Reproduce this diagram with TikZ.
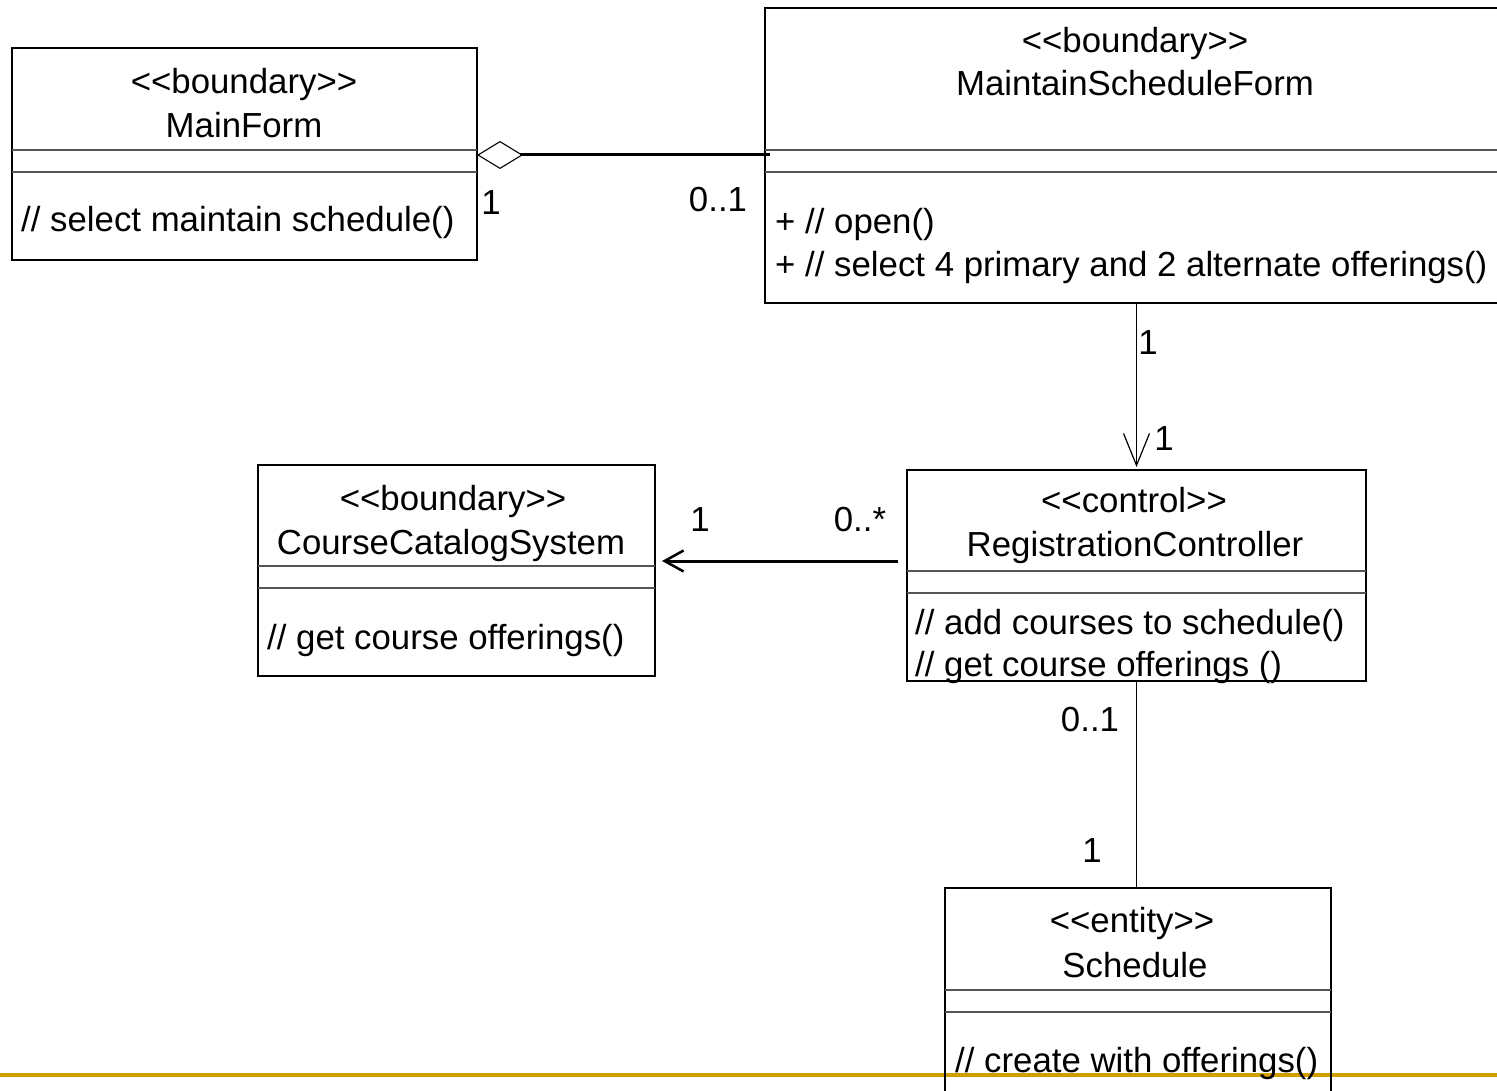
\documentclass[tikz,border=0pt]{standalone}
\usepackage{fontspec}
\setmainfont{Liberation Sans}[Ligatures=TeXOff]
\usetikzlibrary{arrows.meta}
\definecolor{rulegold}{RGB}{208,158,0}
\definecolor{divgray}{RGB}{85,85,85}

\begin{document}
\begin{tikzpicture}[x=1pt,y=-1pt,
  font=\fontsize{34.8}{40}\selectfont,
  cls/.style={draw=black, line width=1.1pt, inner sep=0pt, outer sep=0pt, anchor=north west},
  divider/.style={draw=divgray, line width=1.8pt},
  txt/.style={inner sep=0pt, anchor=base},
  meth/.style={inner sep=0pt, anchor=base west},
  mult/.style={inner sep=0pt, anchor=base},
  link/.style={draw=black, line width=1.2pt},
  strong/.style={draw=black, line width=3pt},
]
\useasboundingbox (0,0) rectangle (1497,1091);

% slide rule along the bottom
\draw[rulegold, line width=4pt] (0,1074.7) -- (1497,1074.7);

% ---- MainForm
\node[cls, minimum width=465pt, minimum height=212pt] (mf) at (12,48) {};
\draw[divider] ([yshift=-102pt]mf.north west) -- ([yshift=-102pt]mf.north east);
\draw[divider] ([yshift=-124pt]mf.north west) -- ([yshift=-124pt]mf.north east);
\node[txt] (mfS) at (244,94) {<<boundary>>};
\node[txt] (mfN) at (244,138) {MainForm};
\node[meth] (mfM1) at (21,232) {// select maintain schedule()};

% ---- MaintainScheduleForm
\node[cls, minimum width=744pt, minimum height=295pt] (msf) at (765,8) {};
\draw[divider] ([yshift=-142pt]msf.north west) -- ([yshift=-142pt]msf.north east);
\draw[divider] ([yshift=-164pt]msf.north west) -- ([yshift=-164pt]msf.north east);
\node[txt] (msfS) at (1135,53) {<<boundary>>};
\node[txt] (msfN) at (1135,96) {MaintainScheduleForm};
\node[meth] (msfM1) at (775,234) {+ // open()};
\node[meth] (msfM2) at (775,277) {+ // select 4 primary and 2 alternate offerings()};

% ---- CourseCatalogSystem
\node[cls, minimum width=397pt, minimum height=211pt] (ccs) at (258,465) {};
\draw[divider] ([yshift=-101pt]ccs.north west) -- ([yshift=-101pt]ccs.north east);
\draw[divider] ([yshift=-123pt]ccs.north west) -- ([yshift=-123pt]ccs.north east);
\node[txt] (ccsS) at (453,510) {<<boundary>>};
\node[txt] (ccsN) at (451,554) {CourseCatalogSystem};
\node[meth] (ccsM1) at (267,649) {// get course offerings()};

% ---- RegistrationController
\node[cls, minimum width=459pt, minimum height=211pt] (rc) at (907,470) {};
\draw[divider] ([yshift=-101pt]rc.north west) -- ([yshift=-101pt]rc.north east);
\draw[divider] ([yshift=-123pt]rc.north west) -- ([yshift=-123pt]rc.north east);
\node[txt] (rcS) at (1134,512) {<<control>>};
\node[txt] (rcN) at (1135,556) {RegistrationController};
\node[meth] (rcM1) at (915,634) {// add courses to schedule()};
\node[meth] (rcM2) at (915,676) {// get course offerings ()};

% ---- Schedule
\node[cls, minimum width=386pt, minimum height=222pt] (sch) at (945,888) {};
\draw[divider] ([yshift=-102pt]sch.north west) -- ([yshift=-102pt]sch.north east);
\draw[divider] ([yshift=-124pt]sch.north west) -- ([yshift=-124pt]sch.north east);
\node[txt] (schS) at (1132,932) {<<entity>>};
\node[txt] (schN) at (1135,977) {Schedule};
\node[meth] (schM1) at (955,1072) {// create with offerings()};

% ---- connectors
% aggregation MainForm <>--- MaintainScheduleForm
\draw[strong, {Diamond[open, length=46pt, width=28pt, line width=1.1pt]}-]
  ([yshift=-1pt]mf.east) -- ([xshift=5pt,yshift=-1pt]mf.east -| msf.west);
% navigable association MaintainScheduleForm --> RegistrationController
\draw[link, -{Straight Barb[length=32pt, width=26pt, line width=1.2pt]}, shorten >=3pt]
  (rc.north |- msf.south) -- (rc.north);
% navigable association RegistrationController --> CourseCatalogSystem
\coordinate (rcL) at (898,561);
\draw[strong, -{Straight Barb[length=19pt, width=21pt, line width=2.5pt]}, shorten >=7pt]
  (rcL) -- (rcL -| ccs.east);
% association RegistrationController --- Schedule
\draw[link] (rc.south) -- (rc.south |- sch.north);

% ---- multiplicities
\node[mult] (m1) at (491,215) {1};
\node[mult] (m2) at (718,212) {0..1};
\node[mult] (m3) at (1148,355) {1};
\node[mult] (m4) at (1164,450) {1};
\node[mult] (m5) at (700,531) {1};
\node[mult] (m6) at (860,531) {0..*};
\node[mult] (m7) at (1090,731) {0..1};
\node[mult] (m8) at (1092,862) {1};
\end{tikzpicture}
\end{document}
